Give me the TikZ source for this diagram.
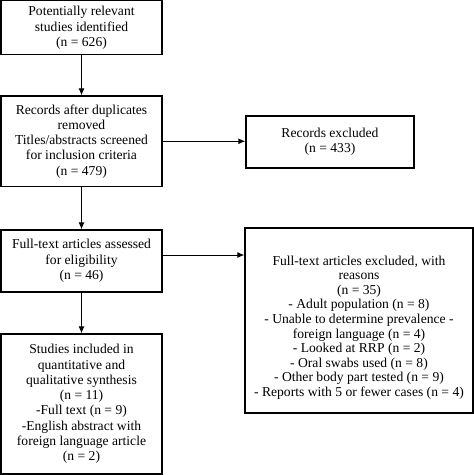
\documentclass[tikz,border=0pt]{standalone}
\usepackage{fontspec}
\setmainfont{Liberation Serif}
\usetikzlibrary{arrows.meta}
\begin{document}
\begin{tikzpicture}[x=1pt,y=-1pt,
  box/.style={draw, line width=1.3pt, align=center, inner sep=0pt, font=\fontsize{13.6}{15.3}\selectfont},
  txt/.style={align=center, inner sep=0pt, font=\fontsize{13.6}{14.6}\selectfont},
  arr/.style={line width=1pt, -{Latex[length=7pt,width=6pt]}}]
\useasboundingbox (0,0) rectangle (474,475);
\node[box, minimum width=161, minimum height=54] (b1) at (81.5,27.8)
  {Potentially relevant\\studies identified\\(n = 626)};
\node[box, minimum width=161, minimum height=90.5] (b2) at (81.5,141.3)
  {Records after duplicates\\removed\\Titles/abstracts screened\\for inclusion criteria\\(n = 479)};
\node[box, minimum width=168, minimum height=52] (b3) at (330,142)
  {Records excluded\\(n = 433)};
\node[box, minimum width=161, minimum height=62] (b4) at (81.5,261)
  {Full-text articles assessed\\for eligibility\\(n = 46)};
\node[box, minimum width=228, minimum height=185] (b5) at (359,320.5) {};
\node[txt] (t5) at (359,327.5)
  {Full-text articles excluded, with\\reasons\\(n = 35)\\- Adult population (n = 8)\\- Unable to determine prevalence -\\foreign language (n = 4)\\- Looked at RRP (n = 2)\\- Oral swabs used (n = 8)\\- Other body part tested (n = 9)\\- Reports with 5 or fewer cases (n = 4)};
\node[box, minimum width=161, minimum height=140] (b6) at (81.5,404)
  {Studies included in\\quantitative and\\qualitative synthesis\\(n = 11)\\-Full text (n = 9)\\-English abstract with\\foreign language article\\(n = 2)};
\draw[arr] (b1.south) -- (b2.north);
\draw[arr] (b2.east) -- (b3.west |- b2.east);
\draw[arr] (b2.south) -- (b4.north);
\coordinate (a4) at ([yshift=6pt]b4.east);
\draw[arr] (a4) -- (b5.west |- a4);
\draw[arr] (b4.south) -- (b6.north);
\end{tikzpicture}
\end{document}
